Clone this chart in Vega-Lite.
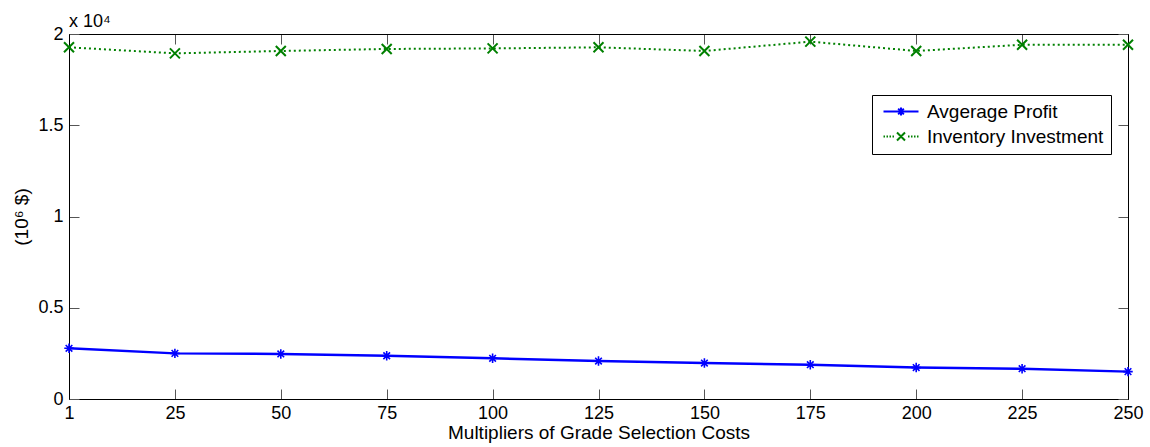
{
  "$schema": "https://vega.github.io/schema/vega-lite/v6.json",
  "width": 1059,
  "height": 365,
  "autosize": {"type": "none"},
  "padding": {"left": 69, "top": 34, "right": 22, "bottom": 48},
  "background": "white",
  "config": {
    "view": {"stroke": "black", "strokeWidth": 1},
    "font": "Liberation Sans",
    "axis": {"grid": false, "domainColor": "black", "tickColor": "#555", "labelColor": "black", "titleColor": "black", "labelFont": "Liberation Sans", "titleFont": "Liberation Sans", "titleFontWeight": "normal"}
  },
  "title": {"text": "x 10⁴", "anchor": "start", "frame": "group", "offset": -6, "fontSize": 18, "fontWeight": "normal", "color": "black", "font": "Liberation Sans"},
  "data": {"values": [
    {"m": 1, "series": "Avgerage Profit", "value": 2780},
    {"m": 25, "series": "Avgerage Profit", "value": 2500},
    {"m": 50, "series": "Avgerage Profit", "value": 2470},
    {"m": 75, "series": "Avgerage Profit", "value": 2370},
    {"m": 100, "series": "Avgerage Profit", "value": 2230},
    {"m": 125, "series": "Avgerage Profit", "value": 2080},
    {"m": 150, "series": "Avgerage Profit", "value": 1970},
    {"m": 175, "series": "Avgerage Profit", "value": 1880},
    {"m": 200, "series": "Avgerage Profit", "value": 1720},
    {"m": 225, "series": "Avgerage Profit", "value": 1660},
    {"m": 250, "series": "Avgerage Profit", "value": 1500},
    {"m": 1, "series": "Inventory Investment", "value": 19270},
    {"m": 25, "series": "Inventory Investment", "value": 18940},
    {"m": 50, "series": "Inventory Investment", "value": 19070},
    {"m": 75, "series": "Inventory Investment", "value": 19180},
    {"m": 100, "series": "Inventory Investment", "value": 19210},
    {"m": 125, "series": "Inventory Investment", "value": 19270},
    {"m": 150, "series": "Inventory Investment", "value": 19070},
    {"m": 175, "series": "Inventory Investment", "value": 19580},
    {"m": 200, "series": "Inventory Investment", "value": 19070},
    {"m": 225, "series": "Inventory Investment", "value": 19410},
    {"m": 250, "series": "Inventory Investment", "value": 19410}
  ]},
  "layer": [
    {
      "transform": [{"filter": "datum.series === 'Avgerage Profit'"}],
      "mark": {"type": "line", "color": "#0000ff", "strokeWidth": 2.5},
      "encoding": {
        "x": {"field": "m", "type": "ordinal", "sort": "ascending", "scale": {"type": "point", "padding": 0},
          "axis": {"orient": "bottom", "title": "Multipliers of Grade Selection Costs", "labelAngle": 0, "labelFontSize": 18, "titleFontSize": 19, "tickSize": -10, "labelPadding": 15, "titlePadding": 1, "domainColor": "black"}},
        "y": {"field": "value", "type": "quantitative", "scale": {"domain": [0, 20000], "nice": false},
          "axis": {"orient": "left", "title": "(10⁶ $)", "values": [0, 5000, 10000, 15000, 20000], "labelExpr": "datum.value / 10000", "labelFontSize": 18, "titleFontSize": 19, "tickSize": -10, "labelPadding": 16, "titlePadding": 6}}
      }
    },
    {
      "transform": [{"filter": "datum.series === 'Avgerage Profit'"}],
      "mark": {"type": "point", "shape": "M-1,0H1M0,-1V1M-0.7,-0.7L0.7,0.7M-0.7,0.7L0.7,-0.7", "filled": false, "color": "#0000ff", "strokeWidth": 1.6, "size": 90, "opacity": 1},
      "encoding": {
        "x": {"field": "m", "type": "ordinal", "sort": "ascending", "scale": {"type": "point", "padding": 0}, "axis": null},
        "y": {"field": "value", "type": "quantitative", "scale": {"domain": [0, 20000], "nice": false}, "axis": null}
      }
    },
    {
      "transform": [{"filter": "datum.series === 'Inventory Investment'"}],
      "mark": {"type": "line", "color": "#008000", "strokeWidth": 2, "strokeDash": [2, 3]},
      "encoding": {
        "x": {"field": "m", "type": "ordinal", "sort": "ascending", "scale": {"type": "point", "padding": 0},
          "axis": {"orient": "top", "title": null, "labels": false, "tickSize": -10, "domainColor": "black"}},
        "y": {"field": "value", "type": "quantitative", "scale": {"domain": [0, 20000], "nice": false},
          "axis": {"orient": "right", "title": null, "labels": false, "values": [0, 5000, 10000, 15000, 20000], "tickSize": -10}}
      }
    },
    {
      "transform": [{"filter": "datum.series === 'Inventory Investment'"}],
      "mark": {"type": "point", "shape": "M-1,-1L1,1M-1,1L1,-1", "filled": false, "color": "#008000", "strokeWidth": 2, "size": 100, "opacity": 1},
      "encoding": {
        "x": {"field": "m", "type": "ordinal", "sort": "ascending", "scale": {"type": "point", "padding": 0}, "axis": null},
        "y": {"field": "value", "type": "quantitative", "scale": {"domain": [0, 20000], "nice": false}, "axis": null}
      }
    },
    {
      "transform": [{"filter": "false"}],
      "mark": {"type": "point", "filled": false, "size": 144, "strokeWidth": 2, "opacity": 1},
      "encoding": {
        "color": {"field": "series", "type": "nominal", "scale": {"domain": ["Avgerage Profit", "Inventory Investment"], "range": ["#0000ff", "#008000"]},
          "legend": {"title": null, "orient": "none", "legendX": 803, "legendY": 61, "padding": 7, "rowPadding": 5, "strokeColor": "black", "fillColor": "white", "labelFontSize": 19, "labelFont": "Liberation Sans", "labelColor": "black", "labelOffset": 29, "labelLimit": 400, "symbolStrokeWidth": 2, "symbolFillColor": "transparent"}},
        "shape": {"field": "series", "type": "nominal", "scale": {"domain": ["Avgerage Profit", "Inventory Investment"], "range": [
          "M-1,0H6M2.5,-0.8V0.8M1.7,0H3.3M1.93,-0.57L3.07,0.57M1.93,0.57L3.07,-0.57",
          "M-1,0H-0.7M-0.4,0H-0.1M0.2,0H0.5M0.8,0H1.1M1.7,-0.8L3.3,0.8M1.7,0.8L3.3,-0.8M3.9,0H4.2M4.5,0H4.8M5.1,0H5.4M5.7,0H6"
        ]},
          "legend": {"title": null, "orient": "none", "legendX": 803, "legendY": 61, "padding": 7, "rowPadding": 5, "strokeColor": "black", "fillColor": "white", "labelFontSize": 19, "labelFont": "Liberation Sans", "labelColor": "black", "labelOffset": 29, "labelLimit": 400, "symbolStrokeWidth": 2, "symbolFillColor": "transparent"}}
      }
    }
  ],
  "resolve": {"axis": {"x": "independent", "y": "independent"}}
}
